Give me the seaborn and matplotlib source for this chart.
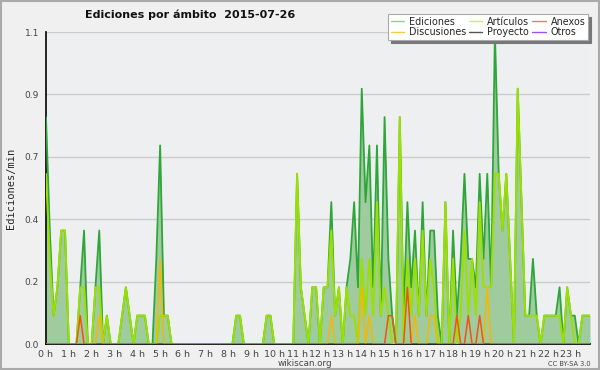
import matplotlib
matplotlib.use("Agg")
import matplotlib.pyplot as plt
from matplotlib.lines import Line2D
from matplotlib.patches import Rectangle
from matplotlib.ticker import FixedLocator, MultipleLocator
import numpy as np
import pandas as pd
import seaborn as sns

# edits per minute, 10 minute bins, 00:00 -> 23:50 (one row = 2 hours)
ediciones = [
    0.8, 0.4, 0.1, 0.2, 0.4, 0.4, 0, 0, 0, 0.2, 0.4, 0,
    0, 0.2, 0.4, 0, 0.1, 0, 0, 0, 0.1, 0.2, 0.1, 0,
    0.1, 0.1, 0.1, 0, 0, 0.3, 0.7, 0.1, 0.1, 0, 0, 0,
    0, 0, 0, 0, 0, 0, 0, 0, 0, 0, 0, 0,
    0, 0, 0.1, 0.1, 0, 0, 0, 0, 0, 0, 0.1, 0.1,
    0, 0, 0, 0, 0, 0, 0.6, 0.2, 0.1, 0, 0.2, 0.2,
    0, 0.2, 0.2, 0.5, 0.1, 0.2, 0, 0.2, 0.3, 0.5, 0.2, 0.9,
    0.5, 0.7, 0.2, 0.7, 0.1, 0.8, 0.3, 0.1, 0, 0.8, 0.1, 0.5,
    0.2, 0.4, 0.1, 0.5, 0.1, 0.4, 0.4, 0.1, 0, 0.5, 0, 0.4,
    0.1, 0.3, 0.6, 0.3, 0.3, 0.2, 0.6, 0.3, 0.6, 0.2, 1.1, 0.6,
    0.4, 0.6, 0.3, 0, 0.9, 0.5, 0.1, 0.1, 0.3, 0.1, 0, 0.1,
    0.1, 0.1, 0.1, 0.2, 0, 0.2, 0.1, 0.1, 0, 0.1, 0.1, 0.1,
]
articulos = [
    0.6, 0.3, 0.1, 0.2, 0.4, 0.4, 0, 0, 0, 0.2, 0.2, 0,
    0, 0.2, 0.2, 0, 0.1, 0, 0, 0, 0.1, 0.2, 0.1, 0,
    0.1, 0.1, 0.1, 0, 0, 0, 0.1, 0.1, 0.1, 0, 0, 0,
    0, 0, 0, 0, 0, 0, 0, 0, 0, 0, 0, 0,
    0, 0, 0.1, 0.1, 0, 0, 0, 0, 0, 0, 0.1, 0.1,
    0, 0, 0, 0, 0, 0, 0.6, 0.2, 0.1, 0, 0.2, 0.2,
    0, 0.2, 0.2, 0.4, 0.1, 0.2, 0, 0.2, 0.1, 0.1, 0, 0.3,
    0.1, 0.3, 0.1, 0.5, 0.1, 0.2, 0.1, 0, 0, 0.8, 0, 0.3,
    0.1, 0.3, 0.1, 0.4, 0.1, 0.3, 0.2, 0, 0, 0.5, 0, 0.3,
    0, 0.1, 0.4, 0.1, 0.3, 0.1, 0.5, 0.2, 0.2, 0.2, 0.6, 0.6,
    0.4, 0.6, 0.3, 0, 0.9, 0.5, 0.1, 0.1, 0.1, 0.1, 0, 0.1,
    0.1, 0.1, 0.1, 0.1, 0, 0.2, 0.1, 0, 0, 0.1, 0.1, 0.1,
]
discusiones = [
    0, 0, 0, 0, 0, 0, 0, 0, 0, 0, 0, 0,
    0, 0, 0.1, 0, 0, 0, 0, 0, 0, 0, 0, 0,
    0, 0, 0, 0, 0, 0, 0.3, 0, 0, 0, 0, 0,
    0, 0, 0, 0, 0, 0, 0, 0, 0, 0, 0, 0,
    0, 0, 0, 0, 0, 0, 0, 0, 0, 0, 0, 0,
    0, 0, 0, 0, 0, 0, 0, 0, 0, 0, 0, 0,
    0, 0, 0, 0.1, 0, 0, 0, 0, 0, 0, 0, 0.2,
    0, 0.1, 0, 0, 0, 0, 0, 0, 0, 0, 0, 0,
    0, 0.1, 0, 0, 0, 0.1, 0.1, 0, 0, 0, 0, 0,
    0, 0, 0, 0, 0, 0, 0, 0, 0.2, 0, 0, 0,
    0, 0, 0, 0, 0, 0, 0, 0, 0, 0, 0, 0,
    0, 0, 0, 0, 0, 0, 0, 0, 0, 0, 0, 0,
]
anexos = [
    0, 0, 0, 0, 0, 0, 0, 0, 0, 0.1, 0, 0,
    0, 0, 0, 0, 0, 0, 0, 0, 0, 0, 0, 0,
    0, 0, 0, 0, 0, 0, 0, 0, 0, 0, 0, 0,
    0, 0, 0, 0, 0, 0, 0, 0, 0, 0, 0, 0,
    0, 0, 0, 0, 0, 0, 0, 0, 0, 0, 0, 0,
    0, 0, 0, 0, 0, 0, 0, 0, 0, 0, 0, 0,
    0, 0, 0, 0, 0, 0, 0, 0, 0, 0, 0, 0,
    0, 0, 0, 0, 0, 0, 0.1, 0.1, 0, 0, 0, 0.2,
    0, 0, 0, 0, 0, 0, 0, 0, 0, 0, 0, 0,
    0.1, 0, 0, 0.1, 0, 0, 0.1, 0, 0, 0, 0, 0,
    0, 0, 0, 0, 0, 0, 0, 0, 0, 0, 0, 0,
    0, 0, 0, 0, 0, 0, 0, 0, 0, 0, 0, 0,
]

hour_labels = [f"{h} h" for h in range(24)]
legend_names = ["Ediciones", "Discusiones", "Artículos", "Proyecto", "Anexos", "Otros"]
legend_colors = ["#8fd08f", "#f5cc44", "#c8f060", "#555555", "#f08050", "#9955ee"]

df = pd.DataFrame({
    "hora": np.arange(len(ediciones)) / 6,
    "Ediciones": ediciones,
    "Artículos": articulos,
    "Discusiones": discusiones,
    "Anexos": anexos,
})

sns.set_style("white")
plt.rcParams["font.family"] = ["DejaVu Sans"]

fig = plt.figure(figsize=(6, 3.7), dpi=100, facecolor="#f0f0f0")
ax = fig.add_axes([46 / 600, 1 - 344 / 370, 544 / 600, 312 / 370])
ax.set_facecolor("#edeff1")

# filled total
ax.fill_between(df["hora"], df["Ediciones"], color="#9fcb9f", lw=0, zorder=1)
sns.lineplot(data=df, x="hora", y="Ediciones", ax=ax, color="#2fa63a", lw=1.3, zorder=3)
sns.lineplot(data=df, x="hora", y="Artículos", ax=ax, color="#9be000", lw=1.4, zorder=4)
sns.lineplot(data=df, x="hora", y="Discusiones", ax=ax, color="#f5b800", lw=1.1, zorder=5)
sns.lineplot(data=df, x="hora", y="Anexos", ax=ax, color="#ee5511", lw=1.1, zorder=6)

ax.set_xlim(0, df["hora"].iloc[-1])
ax.set_ylim(0, 1.1)

yt = [1.1 * k / 5 for k in range(6)]
ax.yaxis.set_major_locator(FixedLocator(yt))
ax.set_yticklabels([f"{v:.1f}" for v in yt])
ax.yaxis.set_minor_locator(MultipleLocator(1.1 / 20))
ax.set_xticks(range(24))
ax.set_xticklabels(hour_labels)
ax.xaxis.set_minor_locator(MultipleLocator(1 / 6))
ax.grid(axis="y", color="#cccccc", lw=1)
ax.set_axisbelow(True)

ax.tick_params(axis="both", which="major", direction="out", length=4, width=1,
               color="black", labelsize=6.5, labelcolor="#444444", pad=1)
ax.tick_params(axis="both", which="minor", direction="out", length=3, width=1, color="black")
ax.tick_params(axis="x", labelsize=6.8, pad=0)

for side in ["top", "right"]:
    ax.spines[side].set_visible(False)
for side in ["left", "bottom"]:
    ax.spines[side].set_color("black")
    ax.spines[side].set_linewidth(1.2)

ax.set_xlabel("")
ax.set_ylabel("Ediciones/min", family="DejaVu Sans Mono", fontsize=7.5, labelpad=6)

handles = [Line2D([], [], color=c, lw=1) for c in legend_colors]
leg = fig.legend(handles, legend_names, ncol=3, loc="upper right",
                 bbox_to_anchor=(593 / 600, 1 - 9 / 370), fontsize=6.9,
                 handlelength=1.4, handletextpad=0.5, columnspacing=0.3,
                 labelspacing=0.05, borderpad=0.3, frameon=True, fancybox=False,
                 shadow={"color": "#777777", "alpha": 1})
leg.get_frame().set_edgecolor("#aaaaaa")
leg.get_frame().set_facecolor("white")
leg.get_frame().set_linewidth(0.8)

fig.text(85 / 600, 1 - 15 / 370, "Ediciones por ámbito  2015-07-26", fontsize=8,
         fontweight="bold", ha="left", va="center", color="#111111")
fig.text(305 / 600, 1 - 363 / 370, "wikiscan.org", fontsize=6.3, color="#444444",
         ha="center", va="center")
fig.text(591 / 600, 1 - 364 / 370, "CC BY-SA 3.0", fontsize=4.8, color="#444444",
         ha="right", va="center")

fig.patches.append(Rectangle((0.001, 0.002), 0.997, 0.996, transform=fig.transFigure,
                             fill=False, edgecolor="#aaaaaa", lw=1.5))

fig.savefig("out.png", dpi=100, facecolor=fig.get_facecolor())
